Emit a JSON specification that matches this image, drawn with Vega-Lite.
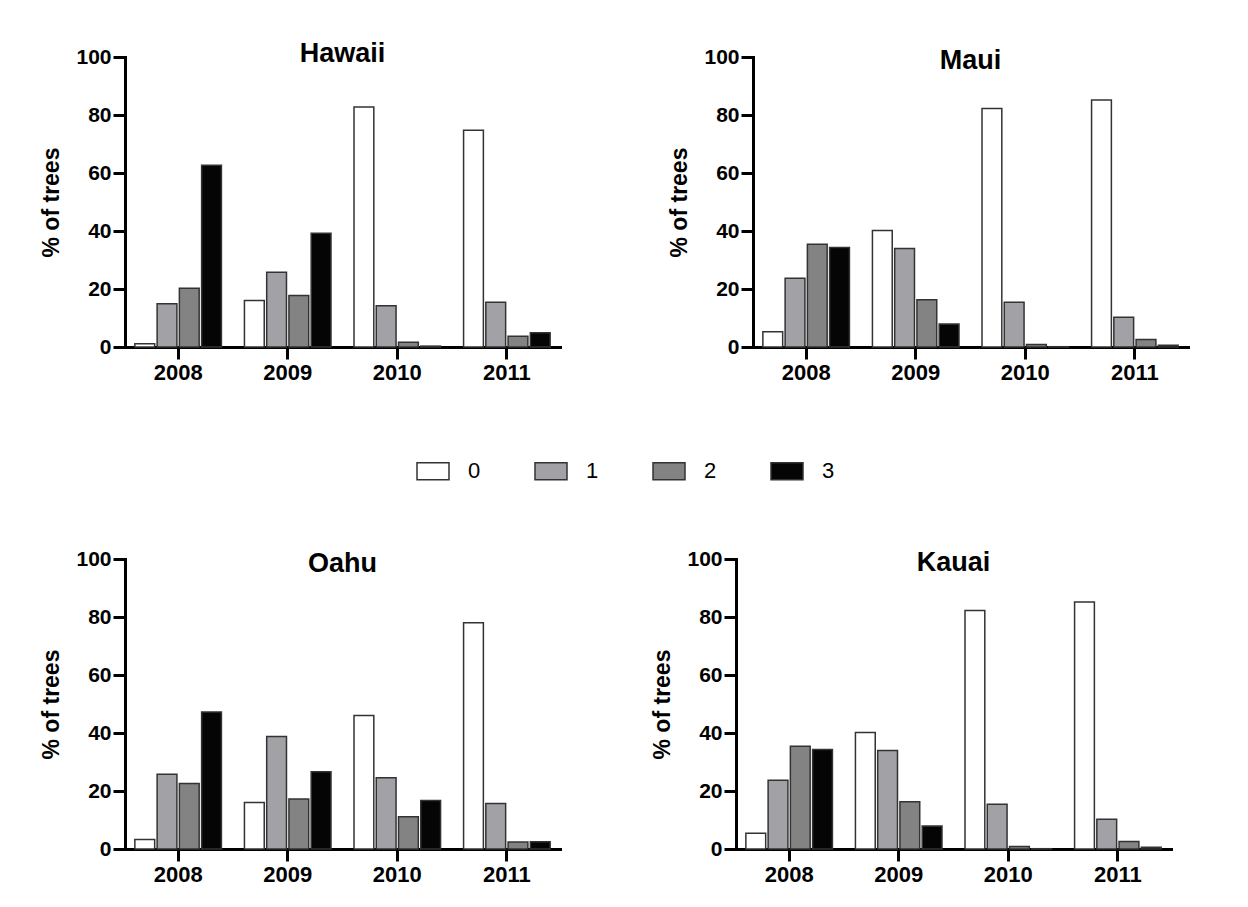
{
 "$schema": "https://vega.github.io/schema/vega-lite/v6.json",
 "padding": {"left": 40, "top": 40, "right": 20, "bottom": 20},
 "background": "white",
 "datasets": {
  "d": [
   {"island": "Hawaii", "year": "2008", "score": "0", "pct": 1.1},
   {"island": "Hawaii", "year": "2008", "score": "1", "pct": 14.9},
   {"island": "Hawaii", "year": "2008", "score": "2", "pct": 20.3},
   {"island": "Hawaii", "year": "2008", "score": "3", "pct": 62.7},
   {"island": "Hawaii", "year": "2009", "score": "0", "pct": 16.0},
   {"island": "Hawaii", "year": "2009", "score": "1", "pct": 25.8},
   {"island": "Hawaii", "year": "2009", "score": "2", "pct": 17.8},
   {"island": "Hawaii", "year": "2009", "score": "3", "pct": 39.2},
   {"island": "Hawaii", "year": "2010", "score": "0", "pct": 82.8},
   {"island": "Hawaii", "year": "2010", "score": "1", "pct": 14.2},
   {"island": "Hawaii", "year": "2010", "score": "2", "pct": 1.6},
   {"island": "Hawaii", "year": "2010", "score": "3", "pct": 0.3},
   {"island": "Hawaii", "year": "2011", "score": "0", "pct": 74.7},
   {"island": "Hawaii", "year": "2011", "score": "1", "pct": 15.4},
   {"island": "Hawaii", "year": "2011", "score": "2", "pct": 3.7},
   {"island": "Hawaii", "year": "2011", "score": "3", "pct": 4.9},
   {"island": "Maui", "year": "2008", "score": "0", "pct": 5.3},
   {"island": "Maui", "year": "2008", "score": "1", "pct": 23.7},
   {"island": "Maui", "year": "2008", "score": "2", "pct": 35.4},
   {"island": "Maui", "year": "2008", "score": "3", "pct": 34.3},
   {"island": "Maui", "year": "2009", "score": "0", "pct": 40.2},
   {"island": "Maui", "year": "2009", "score": "1", "pct": 34.0},
   {"island": "Maui", "year": "2009", "score": "2", "pct": 16.3},
   {"island": "Maui", "year": "2009", "score": "3", "pct": 7.9},
   {"island": "Maui", "year": "2010", "score": "0", "pct": 82.2},
   {"island": "Maui", "year": "2010", "score": "1", "pct": 15.4},
   {"island": "Maui", "year": "2010", "score": "2", "pct": 0.9},
   {"island": "Maui", "year": "2010", "score": "3", "pct": 0.1},
   {"island": "Maui", "year": "2011", "score": "0", "pct": 85.2},
   {"island": "Maui", "year": "2011", "score": "1", "pct": 10.3},
   {"island": "Maui", "year": "2011", "score": "2", "pct": 2.6},
   {"island": "Maui", "year": "2011", "score": "3", "pct": 0.6},
   {"island": "Oahu", "year": "2008", "score": "0", "pct": 3.3},
   {"island": "Oahu", "year": "2008", "score": "1", "pct": 25.8},
   {"island": "Oahu", "year": "2008", "score": "2", "pct": 22.6},
   {"island": "Oahu", "year": "2008", "score": "3", "pct": 47.2},
   {"island": "Oahu", "year": "2009", "score": "0", "pct": 16.0},
   {"island": "Oahu", "year": "2009", "score": "1", "pct": 38.8},
   {"island": "Oahu", "year": "2009", "score": "2", "pct": 17.2},
   {"island": "Oahu", "year": "2009", "score": "3", "pct": 26.6},
   {"island": "Oahu", "year": "2010", "score": "0", "pct": 46.0},
   {"island": "Oahu", "year": "2010", "score": "1", "pct": 24.6},
   {"island": "Oahu", "year": "2010", "score": "2", "pct": 11.1},
   {"island": "Oahu", "year": "2010", "score": "3", "pct": 16.7},
   {"island": "Oahu", "year": "2011", "score": "0", "pct": 78.0},
   {"island": "Oahu", "year": "2011", "score": "1", "pct": 15.7},
   {"island": "Oahu", "year": "2011", "score": "2", "pct": 2.4},
   {"island": "Oahu", "year": "2011", "score": "3", "pct": 2.5},
   {"island": "Kauai", "year": "2008", "score": "0", "pct": 5.4},
   {"island": "Kauai", "year": "2008", "score": "1", "pct": 23.7},
   {"island": "Kauai", "year": "2008", "score": "2", "pct": 35.4},
   {"island": "Kauai", "year": "2008", "score": "3", "pct": 34.3},
   {"island": "Kauai", "year": "2009", "score": "0", "pct": 40.2},
   {"island": "Kauai", "year": "2009", "score": "1", "pct": 34.0},
   {"island": "Kauai", "year": "2009", "score": "2", "pct": 16.3},
   {"island": "Kauai", "year": "2009", "score": "3", "pct": 7.9},
   {"island": "Kauai", "year": "2010", "score": "0", "pct": 82.2},
   {"island": "Kauai", "year": "2010", "score": "1", "pct": 15.4},
   {"island": "Kauai", "year": "2010", "score": "2", "pct": 0.9},
   {"island": "Kauai", "year": "2010", "score": "3", "pct": 0.1},
   {"island": "Kauai", "year": "2011", "score": "0", "pct": 85.2},
   {"island": "Kauai", "year": "2011", "score": "1", "pct": 10.3},
   {"island": "Kauai", "year": "2011", "score": "2", "pct": 2.6},
   {"island": "Kauai", "year": "2011", "score": "3", "pct": 0.6}
  ]
 },
 "data": {"name": "d"},
 "spacing": 165,
 "vconcat": [
  {
   "spacing": 108,
   "hconcat": [
    {
     "title": {"text": "Hawaii", "offset": -22},
     "width": 435, "height": 290,
     "transform": [{"filter": "datum.island === 'Hawaii'"}],
     "mark": {"type": "bar", "stroke": "#333333", "strokeWidth": 1.5},
     "encoding": {
      "x": {"field": "year", "type": "nominal", "scale": {"paddingInner": 0.21, "paddingOuter": 0.09}, "axis": {"title": null, "labelAngle": 0}},
      "xOffset": {"field": "score", "type": "nominal", "scale": {"paddingInner": 0.11}},
      "y": {"field": "pct", "type": "quantitative", "scale": {"domain": [0, 100]}, "axis": {"title": "% of trees", "values": [0, 20, 40, 60, 80, 100]}},
      "color": {"field": "score", "type": "nominal", "scale": {"domain": ["0", "1", "2", "3"], "range": ["#ffffff", "#a2a2a6", "#838383", "#050505"]}}
     }
    },
    {
     "title": {"text": "Maui", "offset": -29},
     "width": 435, "height": 290,
     "transform": [{"filter": "datum.island === 'Maui'"}],
     "mark": {"type": "bar", "stroke": "#333333", "strokeWidth": 1.5},
     "encoding": {
      "x": {"field": "year", "type": "nominal", "scale": {"paddingInner": 0.21, "paddingOuter": 0.09}, "axis": {"title": null, "labelAngle": 0}},
      "xOffset": {"field": "score", "type": "nominal", "scale": {"paddingInner": 0.11}},
      "y": {"field": "pct", "type": "quantitative", "scale": {"domain": [0, 100]}, "axis": {"title": "% of trees", "values": [0, 20, 40, 60, 80, 100]}},
      "color": {"field": "score", "type": "nominal", "scale": {"domain": ["0", "1", "2", "3"], "range": ["#ffffff", "#a2a2a6", "#838383", "#050505"]}}
     }
    }
   ]
  },
  {
   "spacing": 91,
   "hconcat": [
    {
     "title": {"text": "Oahu", "offset": -30},
     "width": 435, "height": 290,
     "transform": [{"filter": "datum.island === 'Oahu'"}],
     "mark": {"type": "bar", "stroke": "#333333", "strokeWidth": 1.5},
     "encoding": {
      "x": {"field": "year", "type": "nominal", "scale": {"paddingInner": 0.21, "paddingOuter": 0.09}, "axis": {"title": null, "labelAngle": 0}},
      "xOffset": {"field": "score", "type": "nominal", "scale": {"paddingInner": 0.11}},
      "y": {"field": "pct", "type": "quantitative", "scale": {"domain": [0, 100]}, "axis": {"title": "% of trees", "values": [0, 20, 40, 60, 80, 100]}},
      "color": {"field": "score", "type": "nominal", "scale": {"domain": ["0", "1", "2", "3"], "range": ["#ffffff", "#a2a2a6", "#838383", "#050505"]}}
     }
    },
    {
     "title": {"text": "Kauai", "offset": -29},
     "width": 435, "height": 290,
     "transform": [{"filter": "datum.island === 'Kauai'"}],
     "mark": {"type": "bar", "stroke": "#333333", "strokeWidth": 1.5},
     "encoding": {
      "x": {"field": "year", "type": "nominal", "scale": {"paddingInner": 0.21, "paddingOuter": 0.09}, "axis": {"title": null, "labelAngle": 0}},
      "xOffset": {"field": "score", "type": "nominal", "scale": {"paddingInner": 0.11}},
      "y": {"field": "pct", "type": "quantitative", "scale": {"domain": [0, 100]}, "axis": {"title": "% of trees", "values": [0, 20, 40, 60, 80, 100]}},
      "color": {"field": "score", "type": "nominal", "scale": {"domain": ["0", "1", "2", "3"], "range": ["#ffffff", "#a2a2a6", "#838383", "#050505"]}}
     }
    }
   ]
  }
 ],
 "resolve": {"scale": {"color": "shared"}},
 "config": {
  "font": "Liberation Sans",
  "view": {"stroke": null},
  "axis": {
   "domainColor": "black", "domainWidth": 3, "domainCap": "square",
   "tickColor": "black", "tickWidth": 3, "tickSize": 12,
   "labelFont": "Liberation Sans", "labelFontSize": 22, "labelFontWeight": "bold", "labelColor": "black", "labelPadding": 3,
   "titleFont": "Liberation Sans", "titleFontSize": 23, "titleFontWeight": "bold", "titleColor": "black",
   "grid": false
  },
  "axisY": {"titlePadding": 12, "labelPadding": 2, "labelFontSize": 21},
  "title": {"font": "Liberation Sans", "fontSize": 27, "fontWeight": "bold", "color": "black", "anchor": "middle"},
  "legend": {
   "orient": "none", "legendX": 291, "legendY": 397, "direction": "horizontal", "title": null,
   "symbolType": "M-1,-0.53H1V0.53H-1Z", "symbolSize": 1024, "symbolStrokeColor": "#333333", "symbolStrokeWidth": 1.5, "symbolOpacity": 1,
   "labelFont": "Liberation Sans", "labelFontSize": 22, "labelColor": "black", "labelOffset": 18, "columnPadding": 51
  }
 }
}
